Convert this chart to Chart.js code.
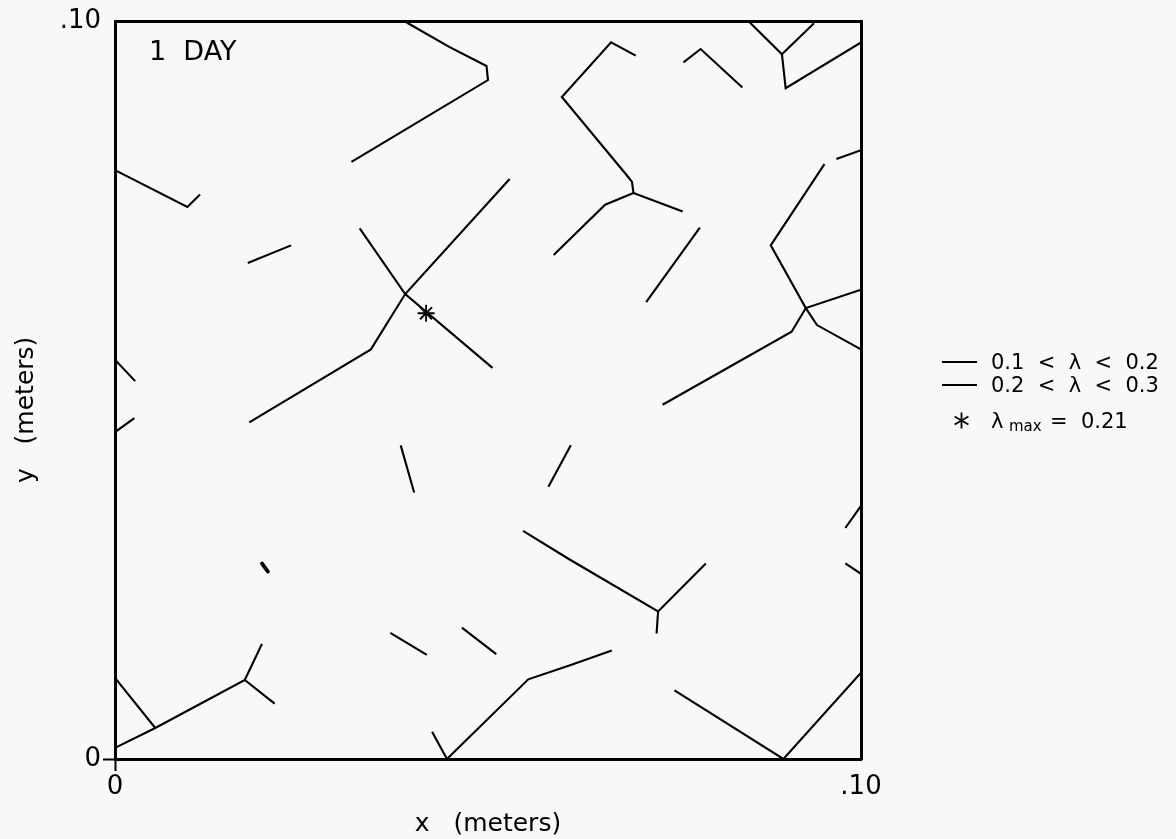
<!DOCTYPE html>
<html>
<head>
<meta charset="utf-8">
<script src="https://cdn.jsdelivr.net/npm/chart.js@4.4.1/dist/chart.umd.min.js"></script>
<style>
  html, body { margin: 0; padding: 0; background: #f8f8f8; }
  #wrap { position: relative; width: 1176px; height: 839px; overflow: hidden; }
  #c { position: absolute; left: 0; top: 0; }
  .t { position: absolute; font-family: "DejaVu Sans", sans-serif; color: #000; line-height: 1; white-space: pre; }
  .ln { position: absolute; height: 2px; background: #000; }
</style>
</head>
<body>
<div id="wrap">
  <canvas id="c" width="1176" height="839"></canvas>
  <div class="t" style="left:149px; top:37px; font-size:27px;">1  DAY</div>
  <div class="ln" style="left:942px; top:361px; width:35px; height:1.6px;"></div>
  <div class="t" style="left:991px; top:352px; font-size:21px;">0.1  &lt;  λ  &lt;  0.2</div>
  <div class="ln" style="left:942px; top:384px; width:35px;"></div>
  <div class="t" style="left:991px; top:375px; font-size:21px;">0.2  &lt;  λ  &lt;  0.3</div>
  <svg style="position:absolute; left:952px; top:411px;" width="19" height="19" viewBox="0 0 19 19">
    <g stroke="#000" stroke-width="1.8">
      <line x1="9.5" y1="1.5" x2="9.5" y2="17.5"/>
      <line x1="2.6" y1="5.5" x2="16.4" y2="13.5"/>
      <line x1="2.6" y1="13.5" x2="16.4" y2="5.5"/>
    </g>
  </svg>
  <div class="t" style="left:991px; top:411px; font-size:21px;">λ</div>
  <div class="t" style="left:1009px; top:419px; font-size:15px;">max</div>
  <div class="t" style="left:1050px; top:411px; font-size:21px;">=  0.21</div>
</div>
<script>
// Crack traces, [x, y] in meters
const crack01 = [[0.0391,0.0998],[0.0448,0.0965],[0.0498,0.0939],[0.0500,0.0920],[0.0317,0.0809]];
const crack02 = [[0.0000,0.0798],[0.0097,0.0748],[0.0114,0.0765]];
const crack03 = [[0.0178,0.0672],[0.0236,0.0696]];
const crack04 = [[0.0328,0.0719],[0.0389,0.0630],[0.0506,0.0530]];
const crack05 = [[0.0529,0.0786],[0.0389,0.0630],[0.0343,0.0555],[0.0180,0.0456]];
const crack06 = [[0.0000,0.0541],[0.0027,0.0512]];
const crack07 = [[0.0000,0.0443],[0.0026,0.0462]];
const crack08 = [[0.0698,0.0953],[0.0665,0.0971],[0.0599,0.0897],[0.0686,0.0791],[0.0693,0.0782],[0.0695,0.0767],[0.0761,0.0742]];
const crack09 = [[0.0695,0.0767],[0.0657,0.0751],[0.0588,0.0683]];
const crack10 = [[0.0762,0.0944],[0.0785,0.0962],[0.0841,0.0910]];
const crack11 = [[0.0851,0.0998],[0.0894,0.0955],[0.0937,0.0997]];
const crack12 = [[0.0894,0.0955],[0.0899,0.0909],[0.1000,0.0971]];
const crack13 = [[0.0784,0.0720],[0.0712,0.0619]];
const crack14 = [[0.0967,0.0813],[0.1000,0.0825]];
const crack15 = [[0.0951,0.0806],[0.0879,0.0696],[0.0926,0.0611],[0.0941,0.0588],[0.1000,0.0555]];
const crack16 = [[0.1000,0.0636],[0.0926,0.0611],[0.0907,0.0579],[0.0734,0.0480]];
const crack17 = [[0.0383,0.0425],[0.0401,0.0361]];
const crack18 = [[0.0369,0.0171],[0.0418,0.0141]];
const crack19 = [[0.0465,0.0178],[0.0511,0.0142]];
const crack20 = [[0.0000,0.0015],[0.0054,0.0042],[0.0174,0.0107],[0.0197,0.0156]];
const crack21 = [[0.0174,0.0107],[0.0214,0.0075]];
const crack22 = [[0.0000,0.0110],[0.0054,0.0042]];
const crack23 = [[0.0425,0.0037],[0.0445,0.0000],[0.0554,0.0108],[0.0610,0.0127],[0.0666,0.0147]];
const crack24 = [[0.0611,0.0425],[0.0581,0.0369]];
const crack25 = [[0.0547,0.0309],[0.0610,0.0270],[0.0728,0.0200],[0.0792,0.0265]];
const crack26 = [[0.0728,0.0200],[0.0726,0.0170]];
const crack27 = [[0.0750,0.0093],[0.0896,0.0000],[0.1000,0.0117]];
const crack28 = [[0.0979,0.0313],[0.1000,0.0343]];
const crack29 = [[0.0979,0.0265],[0.1000,0.0251]];
const spot01  = [[0.0197,0.0265],[0.0205,0.0254]];
const lambdaMaxPoint = [[0.0417,0.0604]];

const cracks = [crack01,crack02,crack03,crack04,crack05,crack06,crack07,crack08,crack09,crack10,
  crack11,crack12,crack13,crack14,crack15,crack16,crack17,crack18,crack19,crack20,
  crack21,crack22,crack23,crack24,crack25,crack26,crack27,crack28,crack29];

const xTickValues = [0, 0.1];
const yTickValues = [0, 0.1];
const xTickLabels = ['0', '.10'];
const yTickLabels = ['0', '.10'];
const xTitle = 'x   (meters)';
const yTitle = 'y   (meters)     ';

const toPts = arr => arr.map(p => ({ x: p[0], y: p[1] }));
const ink = '#000';

const datasets = cracks.map(c => ({
  data: toPts(c), showLine: true, borderColor: ink, borderWidth: 2.1,
  pointRadius: 0, fill: false, tension: 0
}));
datasets.push({ data: toPts(spot01), showLine: true, borderColor: ink, borderWidth: 3.8,
  pointRadius: 0, borderCapStyle: 'round' });
datasets.push({ data: toPts(lambdaMaxPoint), showLine: false, pointStyle: 'star',
  pointRadius: 8.5, borderColor: ink, borderWidth: 1.8, backgroundColor: ink });

const font = { family: '"DejaVu Sans", sans-serif', size: 26 };
const tickColorFn = ctx => (ctx.tick && ctx.tick.value === 0) ? ink : 'rgba(0,0,0,0)';

new Chart(document.getElementById('c'), {
  type: 'scatter',
  data: { datasets },
  options: {
    responsive: false, animation: false, events: [],
    layout: { padding: { left: 0, top: 21, right: 315, bottom: 0 } },
    plugins: { legend: { display: false }, tooltip: { enabled: false } },
    scales: {
      x: {
        type: 'linear', position: 'bottom', min: 0, max: 0.1,
        afterFit: s => { s.height = 80; },
        afterBuildTicks: s => { s.ticks = xTickValues.map(v => ({ value: v })); },
        ticks: { color: ink, font, padding: 1, maxRotation: 0, autoSkip: false,
          callback: (v, i) => xTickLabels[i] },
        grid: { drawOnChartArea: false, tickLength: 12, tickWidth: 2, tickColor: tickColorFn, color: 'rgba(0,0,0,0)' },
        border: { display: true, color: ink, width: 3 },
        title: { display: true, text: xTitle, color: ink, font: { family: font.family, size: 25 }, padding: { top: 0, bottom: 0 } }
      },
      y: {
        type: 'linear', position: 'left', min: 0, max: 0.1,
        afterFit: s => { s.width = 115; },
        afterBuildTicks: s => { s.ticks = yTickValues.map(v => ({ value: v })); },
        ticks: { color: ink, font, padding: 2, autoSkip: false,
          callback: (v, i) => yTickLabels[i] },
        grid: { drawOnChartArea: false, tickLength: 12, tickWidth: 2, tickColor: tickColorFn, color: 'rgba(0,0,0,0)' },
        border: { display: true, color: ink, width: 3 },
        title: { display: true, text: yTitle, color: ink, font: { family: font.family, size: 25 }, padding: { top: 11, bottom: 0 } }
      },
      xTop: {
        type: 'linear', position: 'top', min: 0, max: 0.1,
        afterFit: s => { s.height = 0; },
        ticks: { display: false }, grid: { display: false },
        border: { display: true, color: ink, width: 3 }
      },
      yRight: {
        type: 'linear', position: 'right', min: 0, max: 0.1,
        afterFit: s => { s.width = 0; },
        ticks: { display: false }, grid: { display: false },
        border: { display: true, color: ink, width: 3 }
      }
    }
  }
});
</script>
</body>
</html>
